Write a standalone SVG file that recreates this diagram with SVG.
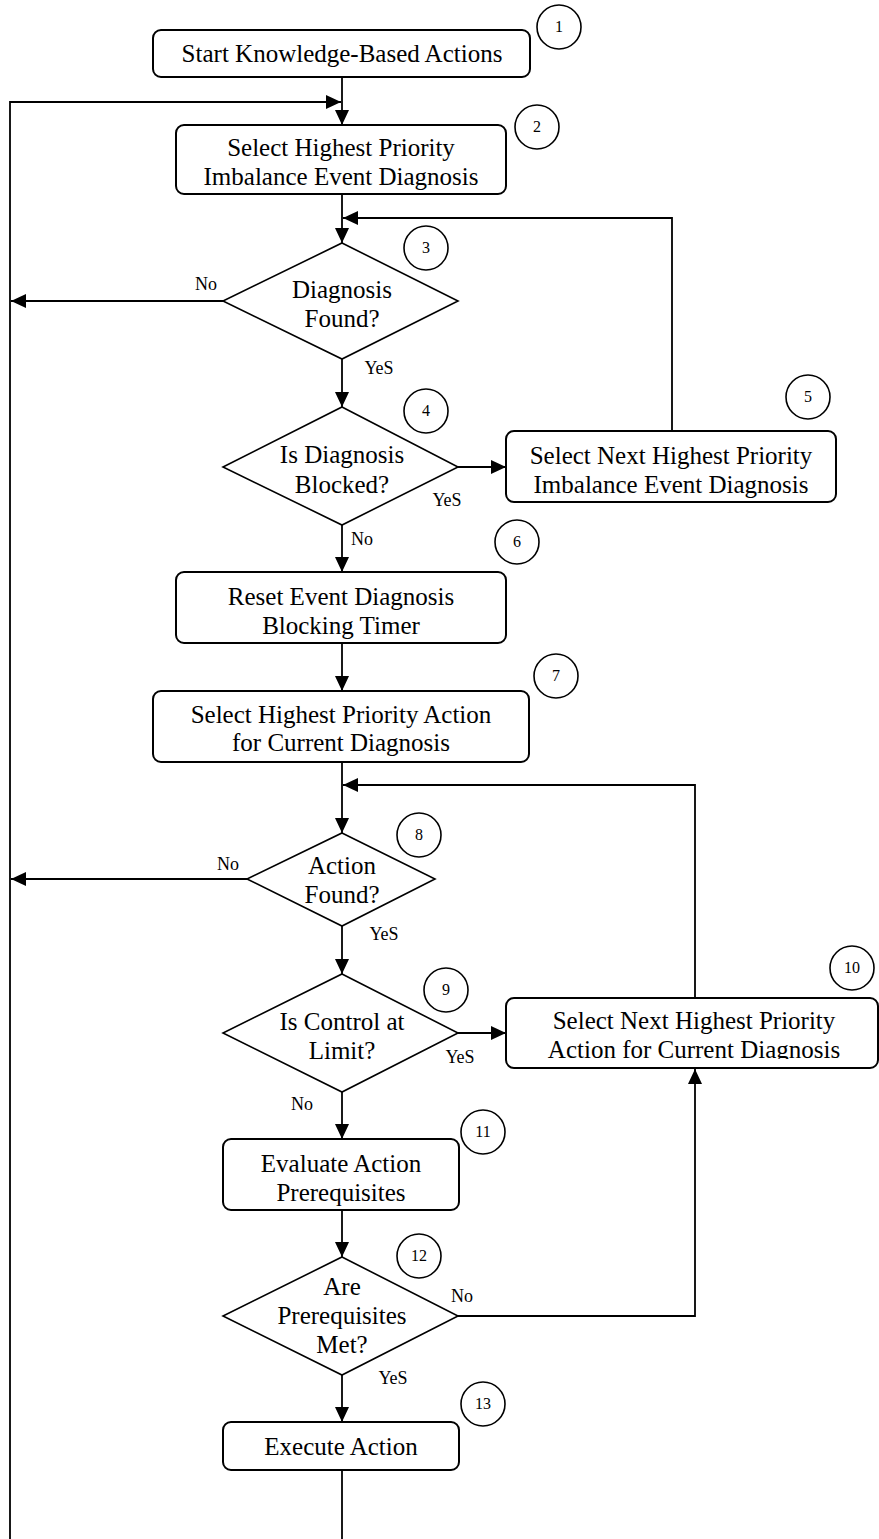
<svg xmlns="http://www.w3.org/2000/svg" width="879" height="1539" viewBox="0 0 879 1539">
<style>
.box{fill:#fff;stroke:#000;stroke-width:2}
.dia{fill:#fff;stroke:#000;stroke-width:1.6}
.num{fill:#fff;stroke:#000;stroke-width:1.6}
.ln{fill:none;stroke:#000;stroke-width:1.8}
text{font-family:"Liberation Serif","Times New Roman",serif;fill:#000;text-anchor:middle}
.t{font-size:25px}
.lbl{font-size:18px}
.n{font-size:16px}
</style>
<defs>
<marker id="ah" viewBox="0 0 15 14" refX="15" refY="7" markerWidth="15" markerHeight="14" markerUnits="userSpaceOnUse" orient="auto">
<path d="M0,0 L15,7 L0,14 Z" fill="#000"/>
</marker>
<clipPath id="c10"><rect x="506" y="998" width="373" height="61"/></clipPath>
</defs>
<g id="connectors">
<line class="ln" x1="342" y1="77" x2="342" y2="125" marker-end="url(#ah)"/>
<polyline class="ln" points="10,1539 10,102 341,102" marker-end="url(#ah)"/>
<line class="ln" x1="342" y1="194" x2="342" y2="243" marker-end="url(#ah)"/>
<polyline class="ln" points="672,431 672,218 343,218" marker-end="url(#ah)"/>
<line class="ln" x1="223" y1="301" x2="11" y2="301" marker-end="url(#ah)"/>
<line class="ln" x1="342" y1="359" x2="342" y2="407" marker-end="url(#ah)"/>
<line class="ln" x1="458" y1="467" x2="506" y2="467" marker-end="url(#ah)"/>
<line class="ln" x1="342" y1="525" x2="342" y2="572" marker-end="url(#ah)"/>
<line class="ln" x1="342" y1="643" x2="342" y2="691" marker-end="url(#ah)"/>
<line class="ln" x1="342" y1="762" x2="342" y2="833" marker-end="url(#ah)"/>
<polyline class="ln" points="695,998 695,785 343,785" marker-end="url(#ah)"/>
<line class="ln" x1="247" y1="879" x2="11" y2="879" marker-end="url(#ah)"/>
<line class="ln" x1="342" y1="926" x2="342" y2="974" marker-end="url(#ah)"/>
<line class="ln" x1="458" y1="1033" x2="506" y2="1033" marker-end="url(#ah)"/>
<line class="ln" x1="342" y1="1092" x2="342" y2="1139" marker-end="url(#ah)"/>
<line class="ln" x1="342" y1="1210" x2="342" y2="1257" marker-end="url(#ah)"/>
<polyline class="ln" points="458,1316 695,1316 695,1069" marker-end="url(#ah)"/>
<line class="ln" x1="342" y1="1375" x2="342" y2="1422" marker-end="url(#ah)"/>
<line class="ln" x1="342" y1="1470" x2="342" y2="1539"/>
<text class="lbl" x="206" y="290">No</text>
<text class="lbl" x="379" y="374">YeS</text>
<text class="lbl" x="447" y="506">YeS</text>
<text class="lbl" x="362" y="545">No</text>
<text class="lbl" x="228" y="870">No</text>
<text class="lbl" x="384" y="940">YeS</text>
<text class="lbl" x="460" y="1063">YeS</text>
<text class="lbl" x="302" y="1110">No</text>
<text class="lbl" x="462" y="1302">No</text>
<text class="lbl" x="393" y="1384">YeS</text>
</g>
<g id="n1">
<rect class="box" x="153" y="30" width="377" height="47" rx="8"/>
<text class="t" x="342" y="62">Start Knowledge-Based Actions</text>
<circle class="num" cx="559" cy="27" r="22"/><text class="n" x="559" y="32">1</text>
</g>
<g id="n2">
<rect class="box" x="176" y="125" width="330" height="69" rx="8"/>
<text class="t" x="341" y="156">Select Highest Priority</text>
<text class="t" x="341" y="185">Imbalance Event Diagnosis</text>
<circle class="num" cx="537" cy="127" r="22"/><text class="n" x="537" y="132">2</text>
</g>
<g id="n3">
<polygon class="dia" points="342,243 458,301 342,359 223,301"/>
<text class="t" x="342" y="298">Diagnosis</text>
<text class="t" x="342" y="327">Found?</text>
<circle class="num" cx="426" cy="248" r="22"/><text class="n" x="426" y="253">3</text>
</g>
<g id="n4">
<polygon class="dia" points="342,407 458,467 342,525 223,467"/>
<text class="t" x="342" y="463">Is Diagnosis</text>
<text class="t" x="342" y="493">Blocked?</text>
<circle class="num" cx="426" cy="411" r="22"/><text class="n" x="426" y="416">4</text>
</g>
<g id="n5">
<rect class="box" x="506" y="431" width="330" height="71" rx="8"/>
<text class="t" x="671" y="464">Select Next Highest Priority</text>
<text class="t" x="671" y="493">Imbalance Event Diagnosis</text>
<circle class="num" cx="808" cy="397" r="22"/><text class="n" x="808" y="402">5</text>
</g>
<g id="n6">
<rect class="box" x="176" y="572" width="330" height="71" rx="8"/>
<text class="t" x="341" y="605">Reset Event Diagnosis</text>
<text class="t" x="341" y="634">Blocking Timer</text>
<circle class="num" cx="517" cy="542" r="22"/><text class="n" x="517" y="547">6</text>
</g>
<g id="n7">
<rect class="box" x="153" y="691" width="376" height="71" rx="8"/>
<text class="t" x="341" y="723">Select Highest Priority Action</text>
<text class="t" x="341" y="751">for Current Diagnosis</text>
<circle class="num" cx="556" cy="676" r="22"/><text class="n" x="556" y="681">7</text>
</g>
<g id="n8">
<polygon class="dia" points="342,833 435,879 342,926 247,879"/>
<text class="t" x="342" y="874">Action</text>
<text class="t" x="342" y="903">Found?</text>
<circle class="num" cx="419" cy="835" r="22"/><text class="n" x="419" y="840">8</text>
</g>
<g id="n9">
<polygon class="dia" points="342,974 458,1033 342,1092 223,1033"/>
<text class="t" x="342" y="1030">Is Control at</text>
<text class="t" x="342" y="1059">Limit?</text>
<circle class="num" cx="446" cy="990" r="22"/><text class="n" x="446" y="995">9</text>
</g>
<g id="n10">
<rect class="box" x="506" y="998" width="372" height="70" rx="8"/>
<text class="t" x="694" y="1029">Select Next Highest Priority</text>
<text class="t" x="694" y="1058" clip-path="url(#c10)">Action for Current Diagnosis</text>
<circle class="num" cx="852" cy="968" r="22"/><text class="n" x="852" y="973">10</text>
</g>
<g id="n11">
<rect class="box" x="223" y="1139" width="236" height="71" rx="8"/>
<text class="t" x="341" y="1172">Evaluate Action</text>
<text class="t" x="341" y="1201">Prerequisites</text>
<circle class="num" cx="483" cy="1132" r="22"/><text class="n" x="483" y="1137">11</text>
</g>
<g id="n12">
<polygon class="dia" points="342,1257 458,1316 342,1375 223,1316"/>
<text class="t" x="342" y="1295">Are</text>
<text class="t" x="342" y="1324">Prerequisites</text>
<text class="t" x="342" y="1353">Met?</text>
<circle class="num" cx="419" cy="1256" r="22"/><text class="n" x="419" y="1261">12</text>
</g>
<g id="n13">
<rect class="box" x="223" y="1422" width="236" height="48" rx="8"/>
<text class="t" x="341" y="1455">Execute Action</text>
<circle class="num" cx="483" cy="1404" r="22"/><text class="n" x="483" y="1409">13</text>
</g>
</svg>
